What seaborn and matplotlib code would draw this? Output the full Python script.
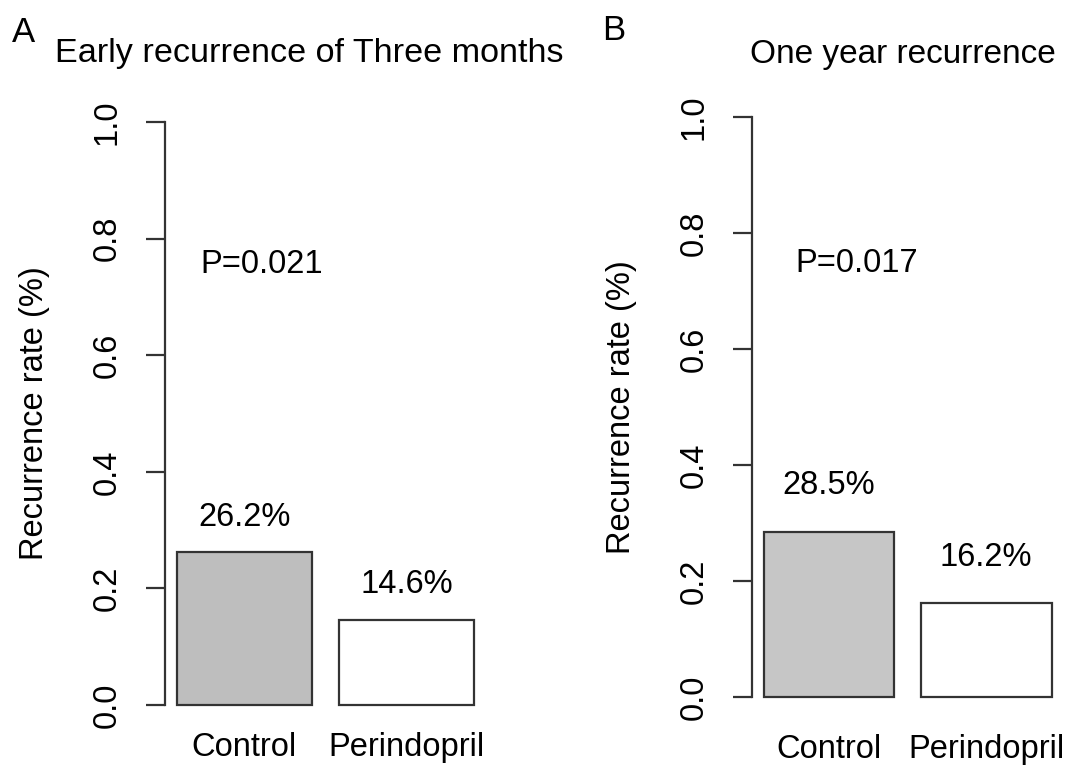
import matplotlib
matplotlib.use("Agg")
import matplotlib.pyplot as plt
import seaborn as sns

# ---- data ----
groups = ["Control", "Perindopril"]
early_rates = [0.262, 0.146]
early_labels = ["26.2%", "14.6%"]
year_rates = [0.285, 0.162]
year_labels = ["28.5%", "16.2%"]
titles = ["Early recurrence of Three months", "One year recurrence"]
panel_letters = ["A", "B"]
p_values = ["P=0.021", "P=0.017"]
y_ticks = [0.0, 0.2, 0.4, 0.6, 0.8, 1.0]
y_tick_labels = ["0.0", "0.2", "0.4", "0.6", "0.8", "1.0"]
y_label = "Recurrence rate (%)"

sns.set_theme(style="white")
plt.rcParams["font.family"] = ["Liberation Sans", "DejaVu Sans"]
plt.rcParams["text.color"] = "#000000"
plt.rcParams["axes.labelcolor"] = "#000000"
plt.rcParams["xtick.color"] = "#000000"
plt.rcParams["ytick.color"] = "#000000"

FS = 23.5
EDGE = "#333333"
TXT = "#000000"

fig = plt.figure(figsize=(10.72, 7.66), dpi=100)
axA = fig.add_axes([0.1539, 0.0492, 0.2992, 0.822])
axB = fig.add_axes([0.7015, 0.0598, 0.2902, 0.8178])

panels = [
    (axA, early_rates, early_labels, ["#bebebe", "#ffffff"], 0.06, 3.0),
    (axB, year_rates, year_labels, ["#c6c6c6", "#ffffff"], 0.079, 10.0),
]

for ax, vals, labs, cols, off, xpad in panels:
    sns.barplot(x=groups, y=vals, hue=groups, palette=cols, legend=False,
                width=1 / 1.2, edgecolor=EDGE, linewidth=1.6, ax=ax)
    ax.set_xlim(-0.49, 1.49)
    ax.set_ylim(-0.04, 1.04)
    for s in ["top", "right", "bottom"]:
        ax.spines[s].set_visible(False)
    ax.spines["left"].set_bounds(0, 1)
    ax.spines["left"].set_color(EDGE)
    ax.spines["left"].set_linewidth(1.6)
    ax.set_yticks(y_ticks)
    ax.set_yticklabels(y_tick_labels, rotation=90, va="center", fontsize=FS, color=TXT)
    ax.tick_params(axis="y", direction="out", length=13.7, width=1.6,
                   color=EDGE, pad=17, left=True)
    ax.tick_params(axis="x", length=0, pad=xpad, labelsize=FS, labelcolor=TXT)
    ax.set_xlabel("")
    ax.set_ylabel(y_label, fontsize=FS, color=TXT)
    ax.yaxis.label.set_verticalalignment("center")
    for i, (v, t) in enumerate(zip(vals, labs)):
        ax.text(i, v + off, t, ha="center", va="center", fontsize=FS, color=TXT)
    ax.grid(False)

axA.yaxis.set_label_coords(-0.408, 0.5)
axB.yaxis.set_label_coords(-0.418, 0.5)
axA.text(0.108, 0.756, p_values[0], ha="center", va="center", fontsize=FS, color=TXT)
axB.text(0.178, 0.747, p_values[1], ha="center", va="center", fontsize=FS, color=TXT)

fig.text(0.2882, 1 - 62 / 766, titles[0], ha="center", va="baseline", fontsize=24.6, color=TXT)
fig.text(903 / 1072, 1 - 63 / 766, titles[1], ha="center", va="baseline", fontsize=24.0, color=TXT)
fig.text(12 / 1072, 1 - 42 / 766, panel_letters[0], ha="left", va="baseline", fontsize=25, color=TXT)
fig.text(602 / 1072, 1 - 40 / 766, panel_letters[1], ha="left", va="baseline", fontsize=25, color=TXT)

fig.savefig("out.png", dpi=100, facecolor="white")
